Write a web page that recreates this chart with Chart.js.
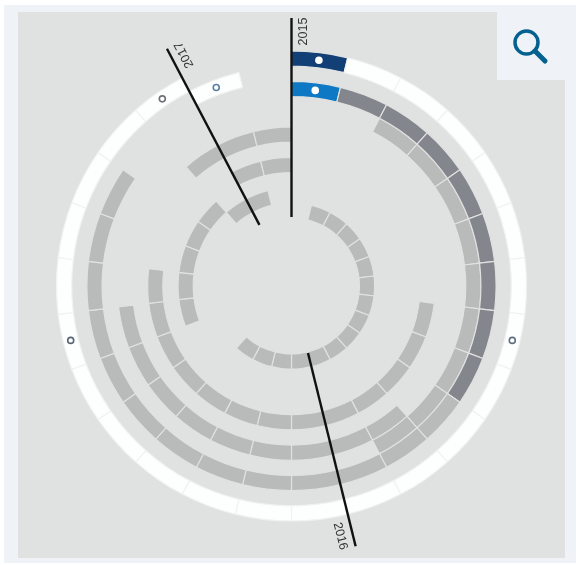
<!DOCTYPE html>
<html>
<head>
<meta charset="utf-8">
<title>Timeline rings</title>
<script src="https://cdn.jsdelivr.net/npm/chart.js@4"></script>
<style>
  html, body { margin: 0; padding: 0; background: #fff; overflow: hidden; }
  #page { position: relative; width: 576px; height: 565px; overflow: hidden; }
  #frame { position: absolute; left: 4px; top: 5px; width: 572px; height: 558px; background: #eff3f7; }
  #panel { position: absolute; left: 18px; top: 12px; width: 547px; height: 546px; background: #e0e1e1; }
  #zoomBox { position: absolute; left: 497px; top: 12px; width: 68px; height: 68px; background: #eff3f7; }
  #zoomBox svg { display: block; }
  canvas { position: absolute; left: 0; top: 0; }
</style>
</head>
<body>
<div id="page">
  <div id="frame"></div>
  <div id="panel"></div>
  <div id="zoomBox">
    <svg width="68" height="68" viewBox="0 0 68 68">
      <circle cx="29.5" cy="30.5" r="11.5" fill="none" stroke="#04618f" stroke-width="3.5"></circle>
      <line x1="38" y1="39" x2="48" y2="49" stroke="#04618f" stroke-width="5" stroke-linecap="round"></line>
    </svg>
  </div>
  <canvas id="chart" width="576" height="565"></canvas>
</div>
<script>
// 26 two-week periods per turn, clockwise from the top.
const periods = [
  'p01', 'p02', 'p03', 'p04', 'p05', 'p06', 'p07', 'p08', 'p09', 'p10', 'p11', 'p12', 'p13',
  'p14', 'p15', 'p16', 'p17', 'p18', 'p19', 'p20', 'p21', 'p22', 'p23', 'p24', 'p25', 'p26'
];
const periodLength = [1, 1, 1, 1, 1, 1, 1, 1, 1, 1, 1, 1, 1, 1, 1, 1, 1, 1, 1, 1, 1, 1, 1, 1, 1, 1];

// Status per period: 0 none, 1 light, 2 dark, 3 blue, 4 navy, 5 white.
const ringA = [4, 5, 5, 5, 5, 5, 5, 5, 5, 5, 5, 5, 5, 5, 5, 5, 5, 5, 5, 5, 5, 5, 5, 5, 0, 0];
const ringB = [0, 0, 0, 0, 0, 0, 0, 0, 0, 0, 0, 0, 0, 0, 0, 0, 0, 0, 0, 0, 0, 0, 0, 0, 5, 0];
const ringC = [3, 2, 2, 2, 2, 2, 2, 2, 2, 1, 1, 1, 1, 1, 1, 1, 1, 1, 1, 1, 1, 1, 0, 0, 0, 0];
const ringD = [0, 0, 1, 1, 1, 1, 1, 1, 1, 1, 1, 0, 0, 0, 0, 0, 0, 0, 0, 0, 0, 0, 0, 0, 0, 0];
const ringE = [0, 0, 0, 0, 0, 0, 0, 0, 0, 0, 1, 1, 1, 1, 1, 1, 1, 1, 1, 0, 0, 0, 0, 0, 0, 0];
const ringF = [0, 0, 0, 0, 0, 0, 0, 0, 0, 0, 0, 0, 0, 0, 0, 0, 0, 0, 0, 0, 0, 0, 0, 1, 1, 1];
const ringG = [0, 0, 0, 0, 0, 0, 0, 1, 1, 1, 1, 1, 1, 1, 1, 1, 1, 1, 1, 1, 0, 0, 0, 0, 0, 0];
const ringH = [0, 0, 0, 0, 0, 0, 0, 0, 0, 0, 0, 0, 0, 0, 0, 0, 0, 0, 0, 0, 0, 0, 0, 0, 1, 1];
const ringI = [0, 0, 0, 0, 0, 0, 0, 0, 0, 0, 0, 0, 0, 0, 0, 0, 0, 0, 1, 1, 1, 1, 1, 0, 0, 0];
const ringJ = [0, 0, 0, 0, 0, 0, 0, 0, 0, 0, 0, 0, 0, 0, 0, 0, 0, 0, 0, 0, 0, 0, 0, 1, 1, 0];
const ringK = [0, 1, 1, 1, 1, 1, 1, 1, 1, 1, 1, 1, 1, 1, 1, 1, 0, 0, 0, 0, 0, 0, 0, 0, 0, 0];
const rings = [ringA, ringB, ringC, ringD, ringE, ringF, ringG, ringH, ringI, ringJ, ringK];

// Year axes start at these periods.
const yearLabels = ['2015', '2016', '2017'];
const yearPeriods = [0, 12, 24];

// Small circles: which ring and period each one sits on.
const markerRings = [0, 2, 0, 0, 0, 1];
const markerPeriods = [0, 0, 7, 18, 23, 24];

const statusColors = ['rgba(0,0,0,0)', '#b9baba', '#83868c', '#0e78c5', '#123f75', '#fdfefe'];
const seamColors = ['rgba(0,0,0,0)', '#e0e1e1', '#e0e1e1', '#e0e1e1', '#e0e1e1', '#f1f2f2'];
const markerStrokes = ['#ffffff', '#ffffff', '#5f6f80', '#5a6273', '#6b7078', '#5a7fa3'];

const yearAxes = {
  id: 'yearAxes',
  afterDatasetsDraw: function (chart) {
    const ctx = chart.ctx;
    const cx = chart.getDatasetMeta(0).data[0].x;
    const cy = chart.getDatasetMeta(0).data[0].y;

    // Markers sit in the middle of their arc.
    markerRings.forEach(function (ring, i) {
      const arc = chart.getDatasetMeta(ring).data[markerPeriods[i]];
      const p = arc.getCenterPoint();
      ctx.beginPath();
      ctx.arc(p.x, p.y, 3, 0, Math.PI * 2);
      ctx.fillStyle = '#ffffff';
      ctx.fill();
      ctx.lineWidth = 1.6;
      ctx.strokeStyle = markerStrokes[i];
      ctx.stroke();
    });

    yearLabels.forEach(function (label, i) {
      const angle = yearPeriods[i] / periods.length * Math.PI * 2;
      const sin = Math.sin(angle);
      const cos = Math.cos(angle);

      ctx.beginPath();
      ctx.moveTo(cx + 69 * sin, cy - 69 * cos);
      ctx.lineTo(cx + 268 * sin, cy - 268 * cos);
      ctx.lineWidth = 2.4;
      ctx.strokeStyle = '#111111';
      ctx.stroke();

      ctx.save();
      ctx.translate(cx + 254.5 * sin + 12.5 * cos, cy - 254.5 * cos + 12.5 * sin);
      ctx.rotate(angle - Math.PI / 2);
      ctx.font = '12.5px "Liberation Sans", Arial, sans-serif';
      ctx.fillStyle = '#333333';
      ctx.textAlign = 'center';
      ctx.textBaseline = 'middle';
      ctx.fillText(label, 0, 0);
      ctx.restore();
    });
  }
};

new Chart(document.getElementById('chart'), {
  type: 'doughnut',
  data: {
    labels: periods,
    datasets: rings.map(function (ring) {
      return {
        data: periodLength,
        backgroundColor: ring.map(function (status) { return statusColors[status]; }),
        borderColor: ring.map(function (status) { return seamColors[status]; }),
        borderWidth: ring.map(function (status) { return status ? 1.2 : 0; })
      };
    })
  },
  options: {
    responsive: false,
    animation: false,
    radius: 235,
    cutout: '28.9%',
    layout: { padding: { left: 7, top: 7 } },
    plugins: {
      legend: { display: false },
      tooltip: { enabled: false }
    }
  },
  plugins: [yearAxes]
});
</script>
</body>
</html>
